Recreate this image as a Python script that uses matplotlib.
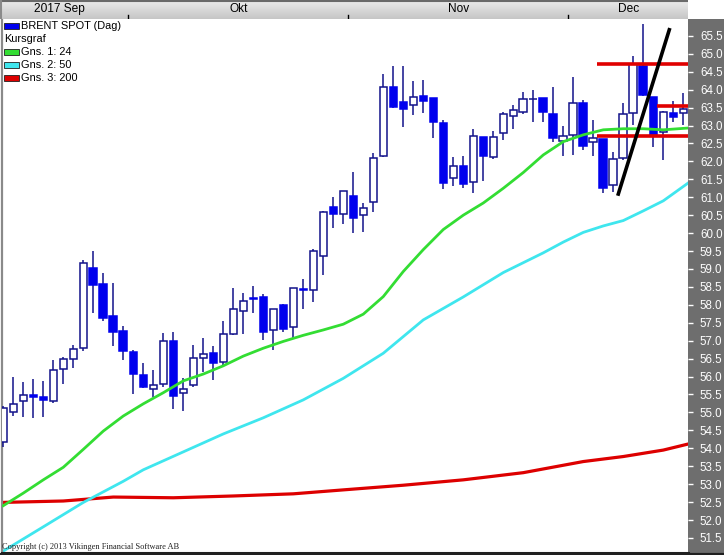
import numpy as np
import matplotlib
matplotlib.use("Agg")
import matplotlib.pyplot as plt
from matplotlib.patches import Rectangle

# ---------------- data ----------------
opens = [54.18, 55.00, 55.31, 55.49, 55.42, 55.31, 56.21, 56.49, 56.79, 59.02,
         58.58, 57.69, 57.28, 56.69, 56.04, 55.65, 55.79, 56.99, 55.54, 55.76,
         56.51, 56.65, 56.40, 57.18, 57.82, 58.19, 58.22, 57.30, 58.00, 57.39,
         58.44, 58.42, 59.37, 60.73, 60.53, 61.04, 60.50, 60.88, 62.16, 64.07,
         63.65, 63.57, 63.82, 63.76, 63.07, 61.53, 61.87, 61.42, 62.68, 62.13,
         62.79, 63.27, 63.37, 63.73, 63.76, 63.32, 62.57, 62.74, 63.62, 62.55,
         62.63, 61.34, 62.09, 63.34, 64.67, 63.79, 62.82, 63.35, 63.34]
highs = [55.18, 56.00, 55.84, 55.93, 55.88, 56.46, 56.54, 56.88, 59.25, 59.49,
         58.88, 58.62, 57.41, 56.74, 56.37, 56.19, 57.21, 57.23, 55.95, 56.88,
         57.08, 56.84, 57.55, 58.46, 58.32, 58.53, 58.31, 57.89, 58.03, 58.47,
         58.72, 59.56, 60.62, 61.02, 61.18, 61.70, 60.83, 62.23, 64.44, 64.66,
         64.66, 64.25, 64.27, 63.77, 63.16, 62.13, 62.15, 62.91, 62.68, 62.85,
         63.39, 63.58, 63.93, 63.99, 63.77, 64.07, 62.99, 64.34, 63.72, 63.16,
         62.63, 62.27, 63.62, 64.94, 65.83, 63.80, 63.41, 63.67, 63.92]
lows = [54.04, 54.91, 54.86, 54.84, 54.88, 55.26, 55.79, 56.23, 56.70, 57.77,
        57.56, 56.84, 56.45, 55.52, 55.68, 55.44, 55.72, 55.10, 55.05, 55.72,
        56.14, 55.89, 56.33, 57.15, 57.18, 57.77, 57.02, 56.74, 57.25, 57.08,
        57.89, 58.09, 58.82, 60.15, 60.25, 60.01, 60.04, 60.60, 62.13, 63.49,
        62.97, 63.28, 63.34, 62.65, 61.23, 61.32, 61.27, 61.11, 61.44, 62.07,
        62.60, 62.90, 63.32, 63.11, 63.11, 62.55, 62.16, 62.18, 62.32, 62.16,
        61.13, 61.16, 62.04, 63.02, 63.81, 62.40, 62.04, 63.09, 63.02]
closes = [55.13, 55.23, 55.49, 55.42, 55.36, 56.18, 56.49, 56.76, 59.16, 58.54,
          57.64, 57.23, 56.70, 56.06, 55.70, 55.76, 56.99, 55.47, 55.64, 56.51,
          56.62, 56.37, 57.18, 57.89, 58.10, 58.15, 57.23, 57.89, 57.32, 58.46,
          58.42, 59.50, 60.58, 60.53, 61.17, 60.43, 60.70, 62.09, 64.07, 63.53,
          63.47, 63.79, 63.67, 63.11, 61.39, 61.86, 61.36, 62.72, 62.16, 62.68,
          63.32, 63.44, 63.73, 63.74, 63.37, 62.66, 62.72, 63.62, 62.44, 62.65,
          61.25, 62.06, 63.32, 64.71, 63.84, 62.74, 63.39, 63.23, 63.46]

# moving averages (candle index, value)
ma24_idx = [0, 2, 4, 6, 8, 10, 12, 14, 16, 18, 20, 22, 24, 26, 28, 30, 32, 34,
            36, 38, 40, 42, 44, 46, 48, 50, 52, 54, 56, 58, 60, 62, 64, 66, 68.5]
ma24_val = [52.40, 52.75, 53.12, 53.47, 53.97, 54.48, 54.90, 55.24, 55.55, 55.88,
            56.07, 56.30, 56.57, 56.79, 56.98, 57.15, 57.30, 57.46, 57.74, 58.23,
            58.93, 59.54, 60.10, 60.50, 60.84, 61.25, 61.69, 62.18, 62.55, 62.74,
            62.88, 62.91, 62.91, 62.88, 62.93]
ma50_idx = [-0.2, 4, 8, 12, 14, 18, 22, 26, 30, 34, 38, 42, 46, 50, 54, 56, 58,
            60, 62, 64, 66, 68.5]
ma50_val = [51.10, 51.81, 52.49, 53.08, 53.40, 53.90, 54.40, 54.85, 55.35, 55.95,
            56.65, 57.58, 58.22, 58.90, 59.45, 59.75, 60.02, 60.20, 60.35, 60.62,
            60.90, 61.40]
ma200_idx = [-0.2, 6, 11, 17, 23, 29, 34, 40, 46, 52, 58, 62, 66, 68.5]
ma200_val = [52.49, 52.53, 52.64, 52.62, 52.67, 52.73, 52.84, 52.97, 53.12,
             53.32, 53.63, 53.77, 53.95, 54.12]

# drawn annotations: horizontal levels (start index, level) and a trend line
level_start = [59.4, 65.4, 59.4]
level_value = [64.72, 63.55, 62.71]
trend_idx = [61.5, 66.6]
trend_val = [61.09, 65.67]

month_labels = ["2017 Sep", "Okt", "Nov", "Dec"]
month_bounds = [12.5, 34.5, 56.5]
legend_labels = ["BRENT SPOT (Dag)", "Kursgraf", "Gns. 1: 24", "Gns. 2: 50", "Gns. 3: 200"]
yticks = np.arange(51.5, 65.51, 0.5)

# ---------------- figure ----------------
W, H = 724, 555
fig = plt.figure(figsize=(W / 100, H / 100), dpi=100)
fig.patch.set_facecolor("white")

def px(x0, y0, x1, y1):
    # pixel box (top-left origin) -> figure fraction
    return [x0 / W, 1 - y1 / H, (x1 - x0) / W, (y1 - y0) / H]

# right axis panel background (its own axes, drawn below the main axes)
pax = fig.add_axes(px(688, 19, 724, 555), zorder=-5)
pax.set_facecolor("#6e6e6e")
pax.set_xticks([])
pax.set_yticks([])
for sp in pax.spines.values():
    sp.set_visible(False)

ax = fig.add_axes(px(2, 19, 688, 553), zorder=1)
n = len(opens)
xmin, xmax = -0.13, 68.47
ax.set_xlim(xmin, xmax)
ax.set_ylim(51.08, 65.97)

edge = "#12128a"
fill = "#0000ee"
for i in range(n):
    o, h, l, c = opens[i], highs[i], lows[i], closes[i]
    ax.plot([i, i], [l, h], color=edge, lw=1.1, zorder=3, solid_capstyle="butt")
    lo, hi = min(o, c), max(o, c)
    hgt = max(hi - lo, 0.02)
    up = c >= o
    ax.add_patch(Rectangle((i - 0.38, lo), 0.76, hgt,
                           facecolor="white" if up else fill,
                           edgecolor=edge if up else fill, lw=1.1, zorder=4))

ax.plot(ma200_idx, ma200_val, color="#dd0000", lw=2.3, zorder=2)
ax.plot(ma50_idx, ma50_val, color="#3fe6ee", lw=2.0, zorder=2)
ax.plot(ma24_idx, ma24_val, color="#33dd33", lw=2.0, zorder=5)

for s, v in zip(level_start, level_value):
    ax.plot([s, xmax], [v, v], color="#e00000", lw=2.6, zorder=6, solid_capstyle="butt")
ax.plot(trend_idx, trend_val, color="black", lw=2.6, zorder=7)

ax.yaxis.tick_right()
ax.set_yticks(yticks)
ax.set_yticklabels([f"{t:.1f}" for t in yticks], fontfamily="Liberation Sans",
                   fontsize=8.3, color="white")
ax.tick_params(axis="y", colors="white", length=3.6, width=1, pad=5, direction="out")
ax.tick_params(axis="x", bottom=False, labelbottom=False)
for sp in ["top", "right"]:
    ax.spines[sp].set_visible(False)
ax.spines["left"].set_color("#8a8a8a")
ax.spines["left"].set_linewidth(1.6)
ax.spines["bottom"].set_color("#202020")
ax.spines["bottom"].set_linewidth(2.2)

# legend
lfont = dict(fontfamily="Liberation Sans", fontsize=7.9, color="black")
lcolors = ["#0000ee", None, "#33dd33", "#3fe6ee", "#dd0000"]
for k, (lab, col) in enumerate(zip(legend_labels, lcolors)):
    ytop = 20 + 13 * k
    if col is not None:
        ax.add_patch(Rectangle((4 / W, 1 - (ytop + 9) / H), 15 / W, 6 / H,
                               transform=fig.transFigure, facecolor=col,
                               edgecolor="#202020", lw=0.6, zorder=10))
        fig.text(21 / W, 1 - (ytop + 6) / H, lab, va="center", ha="left", **lfont)
    else:
        fig.text(4 / W, 1 - (ytop + 6) / H, lab, va="center", ha="left", **lfont)

fig.text(2 / W, 1 - 547 / H, "Copyright (c) 2013 Vikingen Financial Software AB",
         fontfamily="Liberation Serif", fontsize=6.0, color="#202020", va="center", ha="left")

# header bar with month labels
hax = fig.add_axes(px(0, 0, 688, 19), zorder=2)
grad = np.linspace(0, 1, 50).reshape(-1, 1)
hax.imshow(grad, aspect="auto", cmap=matplotlib.colors.LinearSegmentedColormap.from_list(
    "g", ["#ececec", "#c6c6c6"]), extent=[0, 1, 0, 1], transform=hax.transAxes, zorder=0)
hax.set_xlim(xmin - 2 / 10, xmax)
hax.set_ylim(0, 1)
hax.axis("off")
hax.plot([0, 1], [0.97, 0.97], transform=hax.transAxes, color="#6a6a6a", lw=1.5)
hax.plot([0.0015, 0.0015], [0, 1], transform=hax.transAxes, color="#8a8a8a", lw=1.5)
label_pos = [5.6] + [(a + b) / 2 for a, b in zip(month_bounds, month_bounds[1:] + [68.5])]
for lab, p in zip(month_labels, label_pos):
    hax.text(p, 0.55, lab, ha="center", va="center", fontfamily="Liberation Sans",
             fontsize=8.6, color="black")
for b in month_bounds:
    hax.plot([b, b], [0, 0.22], color="black", lw=1)

# dark bottom edge across the whole figure
fig.add_artist(matplotlib.lines.Line2D([0, 1], [1.5 / H, 1.5 / H], transform=fig.transFigure,
                                       color="#202020", lw=1.6))

fig.savefig("out.png", dpi=100, facecolor="white")
